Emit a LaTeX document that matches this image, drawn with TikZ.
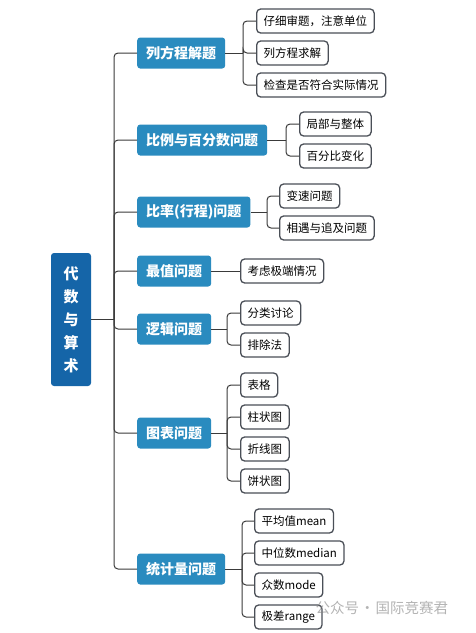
\documentclass[tikz,border=0pt]{standalone}
\usepackage{fontspec}
\setmainfont{Noto Sans CJK SC}
\usepackage{tikz}
\definecolor{rootblue}{HTML}{1565A8}
\definecolor{mainblue}{HTML}{2A8BBF}
\definecolor{boxline}{HTML}{4A4F57}
\definecolor{linkgray}{HTML}{3A3A3A}

\begin{document}
\begin{tikzpicture}[x=1pt,y=-1pt]
    \tikzset{root/.style = {shape=rectangle, rounded corners=3pt, fill=rootblue, text=white, font=\bfseries\fontsize{15}{23}\selectfont, align=center, minimum width=40pt, minimum height=133pt}}
    \tikzset{topic/.style = {shape=rectangle, rounded corners=3pt, fill=mainblue, text=white, font=\bfseries\fontsize{14}{16}\selectfont, minimum height=31pt, inner xsep=9pt, anchor=west}}
    \tikzset{leaf/.style = {shape=rectangle, draw=boxline, line width=1.3pt, rounded corners=4pt, fill=white, font=\fontsize{11.5}{13}\selectfont, minimum height=24pt, inner xsep=7pt, anchor=west}}
    \tikzset{link/.style = {draw=linkgray, line width=1pt, rounded corners=4pt}}

    \useasboundingbox (0,0) rectangle (475,633);

    % vertices
    \node[root] (r) at (71,319.5) {代\\数\\与\\算\\术};

    \node[topic] (t1) at (137,53)  {列方程解题};
    \node[topic] (t2) at (137,140) {比例与百分数问题};
    \node[topic] (t3) at (137,212) {比率(行程)问题};
    \node[topic] (t4) at (137,271) {最值问题};
    \node[topic] (t5) at (137,329) {逻辑问题};
    \node[topic] (t6) at (137,433) {图表问题};
    \node[topic] (t7) at (137,569) {统计量问题};

    \node[leaf] (l11) at (256,21)  {仔细审题，注意单位};
    \node[leaf] (l12) at (256,53)  {列方程求解};
    \node[leaf] (l13) at (256,85)  {检查是否符合实际情况};
    \node[leaf] (l21) at (299,124) {局部与整体};
    \node[leaf] (l22) at (299,156) {百分比变化};
    \node[leaf] (l31) at (279,196) {变速问题};
    \node[leaf] (l32) at (279,228) {相遇与追及问题};
    \node[leaf] (l41) at (240,271) {考虑极端情况};
    \node[leaf] (l51) at (240,313) {分类讨论};
    \node[leaf] (l52) at (240,345) {排除法};
    \node[leaf] (l61) at (240,385) {表格};
    \node[leaf] (l62) at (240,417) {柱状图};
    \node[leaf] (l63) at (240,449) {折线图};
    \node[leaf] (l64) at (240,481) {饼状图};
    \node[leaf] (l71) at (254,521) {平均值mean};
    \node[leaf] (l72) at (254,553) {中位数median};
    \node[leaf] (l73) at (254,585) {众数mode};
    \node[leaf] (l74) at (254,617) {极差range};

    % branch points
    \coordinate (j0) at (114,319.5);
    \coordinate (j1) at (243,53);
    \coordinate (j2) at (286,140);
    \coordinate (j3) at (267,212);
    \coordinate (j5) at (227,329);
    \coordinate (j6) at (227,433);
    \coordinate (j7) at (242,569);

    % edges
    \draw[link] (r.east) -- (j0);
    \draw[link] (j0) |- (t1.west);
    \draw[link] (j0) |- (t2.west);
    \draw[link] (j0) |- (t3.west);
    \draw[link] (j0) |- (t4.west);
    \draw[link] (j0) |- (t5.west);
    \draw[link] (j0) |- (t6.west);
    \draw[link] (j0) |- (t7.west);

    \draw[link] (t1.east) -- (j1);
    \draw[link] (j1) |- (l11.west);
    \draw[link] (j1) |- (l12.west);
    \draw[link] (j1) |- (l13.west);

    \draw[link] (t2.east) -- (j2);
    \draw[link] (j2) |- (l21.west);
    \draw[link] (j2) |- (l22.west);

    \draw[link] (t3.east) -- (j3);
    \draw[link] (j3) |- (l31.west);
    \draw[link] (j3) |- (l32.west);

    \draw[link] (t4.east) -- (l41.west);

    \draw[link] (t5.east) -- (j5);
    \draw[link] (j5) |- (l51.west);
    \draw[link] (j5) |- (l52.west);

    \draw[link] (t6.east) -- (j6);
    \draw[link] (j6) |- (l61.west);
    \draw[link] (j6) |- (l62.west);
    \draw[link] (j6) |- (l63.west);
    \draw[link] (j6) |- (l64.west);

    \draw[link] (t7.east) -- (j7);
    \draw[link] (j7) |- (l71.west);
    \draw[link] (j7) |- (l72.west);
    \draw[link] (j7) |- (l73.west);
    \draw[link] (j7) |- (l74.west);

    % watermark
    \node[anchor=west, text=gray, opacity=0.6, font=\fontsize{14.5}{16}\selectfont] (wm) at (312,608) {公众号\hspace{1pt}·\hspace{1pt}国际竞赛君};
\end{tikzpicture}
\end{document}
